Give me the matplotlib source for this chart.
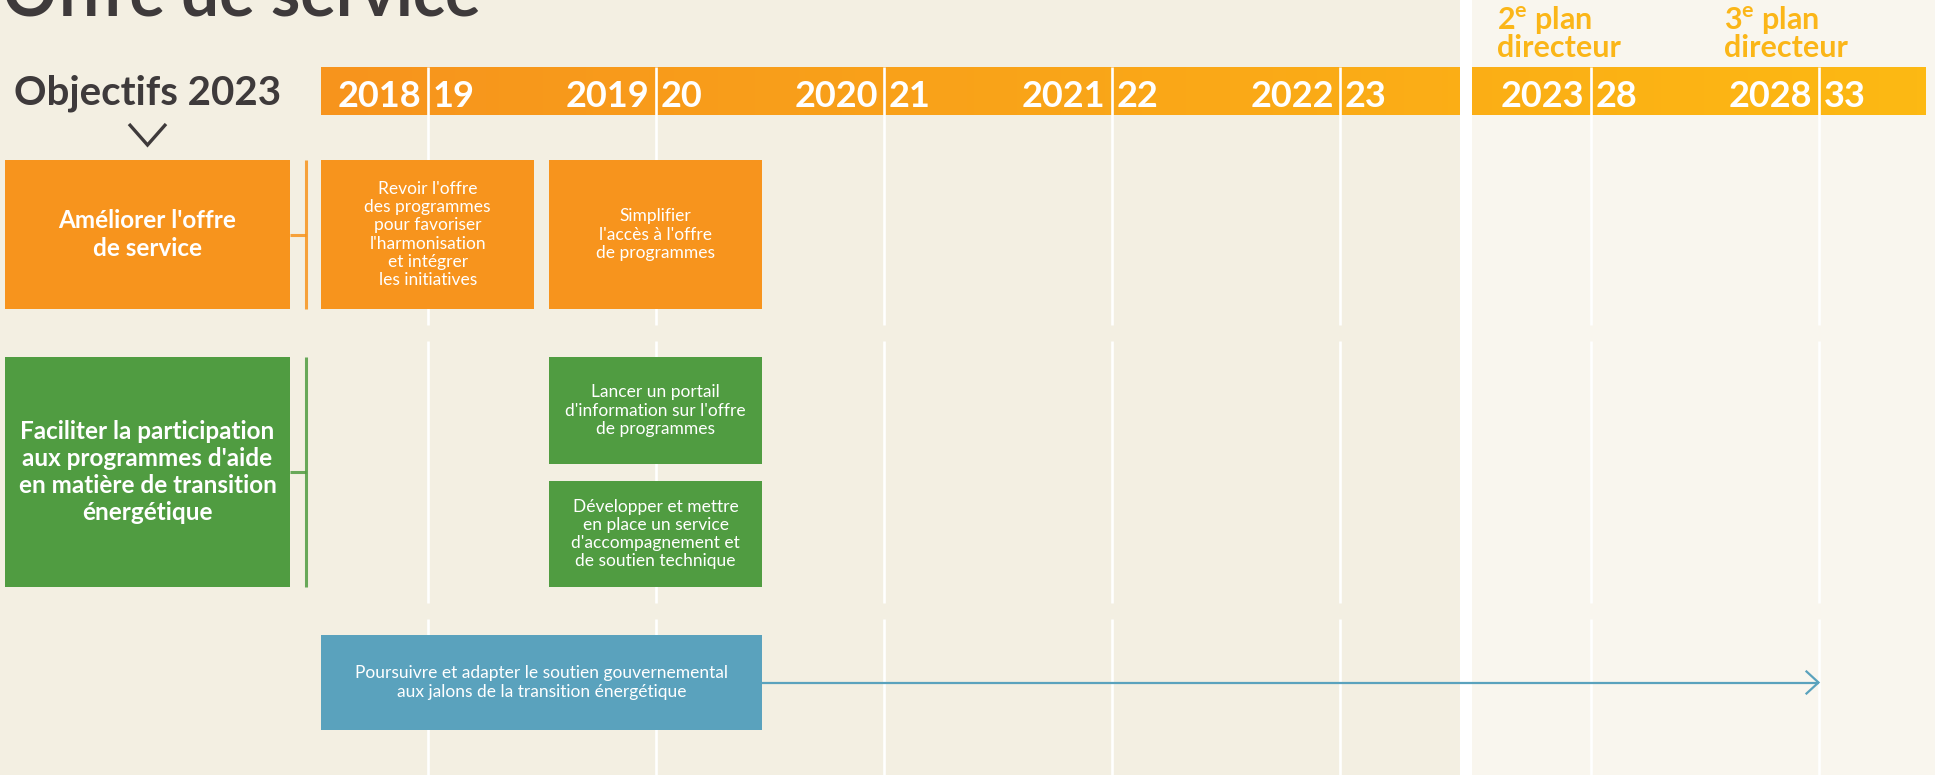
import matplotlib
matplotlib.use("Agg")
import matplotlib.pyplot as plt
import numpy as np
from matplotlib.patches import Rectangle
from matplotlib.colors import LinearSegmentedColormap

plt.rcParams['font.family'] = ['Lato', 'DejaVu Sans']
plt.rcParams['mathtext.fontset'] = 'custom'
plt.rcParams['mathtext.rm'] = 'Lato:bold'
plt.rcParams['mathtext.it'] = 'Lato:bold'
plt.rcParams['mathtext.bf'] = 'Lato:bold'

# ---------------- data ----------------
title = "Offre de service"
objectives_heading = "Objectifs 2023"

left_years = ["2018", "2019", "2020", "2021", "2022"]
left_next = ["19", "20", "21", "22", "23"]
right_years = ["2023", "2028"]
right_next = ["28", "33"]
plan_first = ["2$^{e}$ plan", "3$^{e}$ plan"]
plan_second = ["directeur", "directeur"]

objectives = ["Améliorer l'offre\nde service",
              "Faciliter la participation\naux programmes d'aide\nen matière de transition\nénergétique"]

action_texts = [
    "Revoir l'offre\ndes programmes\npour favoriser\nl'harmonisation\net intégrer\nles initiatives",
    "Simplifier\nl'accès à l'offre\nde programmes",
    "Lancer un portail\nd'information sur l'offre\nde programmes",
    "Développer et mettre\nen place un service\nd'accompagnement et\nde soutien technique",
    "Poursuivre et adapter le soutien gouvernemental\naux jalons de la transition énergétique",
]
# spans in timeline periods (divider k sits at k)
action_start = [-0.5, 0.5, 0.5, 0.5, -0.5]
action_end = [0.5, 1.5, 1.5, 1.5, 1.5]
action_kind = ["offre", "offre", "particip", "particip", "soutien"]
arrow_target = "2028"   # blue action continues up to the 2028|33 divider

# ---------------- style / layout ----------------
BG = "#f3efe2"
BG_R = "#f9f6ee"
DARK = "#3e3a3b"
ORANGE = "#f7941d"
GREEN = "#509c41"
BLUE = "#5aa2bd"
YELLOW = "#fbb618"
kind_color = {"offre": ORANGE, "particip": GREEN, "soutien": BLUE}

W, H = 1935, 775
PX0, PXU = 427.7, 228.0        # pixel of divider 0, pixels per period
def u(px):
    return (px - PX0) / PXU

left_div = list(range(len(left_years)))
right_div = [5.1, 6.1]
inset = 0.032

fig = plt.figure(figsize=(W / 100, H / 100), dpi=100)
fig.patch.set_facecolor(BG)
ax = fig.add_axes([0, 0, 1, 1])
ax.set_xlim(u(0), u(W))
ax.set_ylim(H, 0)
ax.axis("off")

# right (future plans) background and separator
sep_l, sep_r = 4.5 + 0.028, 4.58
ax.add_patch(Rectangle((sep_r, 0), u(W) - sep_r, H, color=BG_R, zorder=0, lw=0))
ax.add_patch(Rectangle((sep_l, 0), sep_r - sep_l, H, color="white", zorder=4, lw=0))

# header gradient
hdr_top, hdr_bot = 67, 115
cmap = LinearSegmentedColormap.from_list("hdr", [ORANGE, "#fdb913"])
grad = np.linspace(0, 1, 256).reshape(1, -1)
hdr_l, hdr_r = -0.5 + inset, 6.57
ax.imshow(grad, cmap=cmap, extent=(hdr_l, hdr_r, hdr_bot, hdr_top),
          aspect="auto", zorder=2, interpolation="bilinear")
ax.set_xlim(u(0), u(W))
ax.set_ylim(H, 0)

# grid lines (white) in segments
segs = [(hdr_top, 325), (341, 603), (619, H)]
for d in left_div + right_div:
    for y0, y1 in segs:
        ax.plot([d, d], [y0, y1], color="white", lw=1.9, zorder=3 if y0 == hdr_top else 1,
                solid_capstyle="butt")

# header labels
hdr_base = 107
for d, a, b in zip(left_div + right_div, left_years + right_years, left_next + right_next):
    ax.annotate(a, xy=(d, hdr_base), xytext=(-6, 0), textcoords="offset pixels",
                ha="right", va="baseline", fontsize=26, fontweight="bold", color="white", zorder=5)
    ax.annotate(b, xy=(d, hdr_base), xytext=(5, 0), textcoords="offset pixels",
                ha="left", va="baseline", fontsize=26, fontweight="bold", color="white", zorder=5)

# plan labels
plan_x = [u(1497), u(1724)]
for x, l1, l2 in zip(plan_x, plan_first, plan_second):
    ax.text(x, 29, l1, ha="left", va="baseline", fontsize=22, fontweight="bold", color=YELLOW)
    ax.text(x, 57, l2, ha="left", va="baseline", fontsize=22, fontweight="bold", color=YELLOW)

# title and objectives heading
ax.text(u(3), 15, title, ha="left", va="baseline", fontsize=48, fontweight="bold", color=DARK)
obj_cx = u(147.5)
ax.text(obj_cx, 105, objectives_heading, ha="center", va="baseline", fontsize=29,
        fontweight="bold", color=DARK)
ax.plot([u(129), obj_cx, u(166)], [124, 145, 124], color=DARK, lw=2.4,
        solid_joinstyle="miter", solid_capstyle="butt")

# objective boxes with connectors
obj_rows = [(160, 309), (357, 587)]
obj_cols = [ORANGE, GREEN]
obj_l, obj_r, conn_x = u(5), u(290), u(306)
for (y0, y1), txt, col in zip(obj_rows, objectives, obj_cols):
    ax.add_patch(Rectangle((obj_l, y0), obj_r - obj_l, y1 - y0, color=col, lw=0, zorder=5))
    ax.text((obj_l + obj_r) / 2, (y0 + y1) / 2, txt, ha="center", va="center",
            fontsize=17.5, fontweight="bold", color="white", linespacing=1.22, zorder=6)
    ax.plot([conn_x, conn_x], [y0, y1], color=col, lw=2.2, alpha=0.85, zorder=5,
            solid_capstyle="butt")
    ax.plot([obj_r, conn_x], [(y0 + y1) / 2] * 2, color=col, lw=2.2, alpha=0.85, zorder=5,
            solid_capstyle="butt")

# action boxes
action_rows = [(160, 309), (160, 309), (357, 464), (481, 587), (635, 730)]
for s, e, (y0, y1), txt, k in zip(action_start, action_end, action_rows, action_texts, action_kind):
    x0, x1 = s + inset, e - inset
    ax.add_patch(Rectangle((x0, y0), x1 - x0, y1 - y0, color=kind_color[k], lw=0, zorder=5))
    ax.text((x0 + x1) / 2, (y0 + y1) / 2, txt, ha="center", va="center", fontsize=12.5,
            color="white", linespacing=1.17, zorder=6)

# continuation arrow of the blue action
tgt = right_div[right_years.index(arrow_target)]
ay = (action_rows[-1][0] + action_rows[-1][1]) / 2
ax.plot([action_end[-1] - inset, tgt], [ay, ay], color=BLUE, lw=1.6, zorder=5,
        solid_capstyle="butt")
ax.plot([tgt - 12 / PXU, tgt, tgt - 12 / PXU], [ay - 11, ay, ay + 11], color=BLUE, lw=1.6,
        zorder=5, solid_joinstyle="miter")

fig.savefig("out.png", dpi=100, facecolor=BG)
